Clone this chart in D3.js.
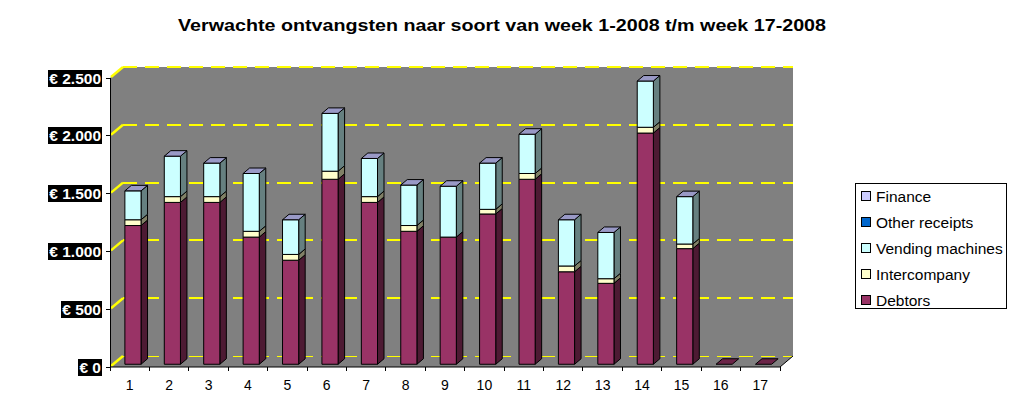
<!DOCTYPE html>
<html>
<head>
<meta charset="utf-8">
<script src="https://cdn.jsdelivr.net/npm/d3@7"></script>
<style>
  body { margin: 0; background: #fff; }
  svg { display: block; font-family: Arial, 'Liberation Sans', sans-serif; }
</style>
</head>
<body>
<svg id="chart"></svg>
<script>
const weeks = ['1', '2', '3', '4', '5', '6', '7', '8', '9', '10', '11', '12', '13', '14', '15', '16', '17']
const debtors = [1200, 1400, 1400, 1100, 900, 1600, 1400, 1150, 1100, 1300, 1600, 800, 700, 2000, 1000, 0, 0]
const intercompany = [50, 50, 50, 50, 50, 70, 50, 50, 0, 40, 50, 50, 40, 50, 40, null, null]
const vending = [250, 350, 290, 500, 300, 500, 330, 350, 440, 400, 340, 400, 400, 400, 410, null, null]
const otherReceipts = [0, 0, 0, 0, 0, 0, 0, 0, 0, 0, 0, 0, 0, 0, 0, null, null]
const finance = [0, 0, 0, 0, 0, 0, 0, 0, 0, 0, 0, 0, 0, 0, 0, null, null]
const yTicks = [0, 500, 1000, 1500, 2000, 2500]

// series from bottom to top
const series = [
  { name: 'Debtors', values: debtors, front: '#993366', side: '#4d1a33', top: '#6b2447' },
  { name: 'Intercompany', values: intercompany, front: '#ffffcc', side: '#808066', top: '#bfbf99' },
  { name: 'Vending machines', values: vending, front: '#ccffff', side: '#668080', top: '#99bfbf' },
  { name: 'Other receipts', values: otherReceipts, front: '#0066cc', side: '#003366', top: '#004d99' },
  { name: 'Finance', values: finance, front: '#ccccff', side: '#666680', top: '#9999c6' }
]

const width = 1015
const height = 395
const dx = 13   // depth offset of the back wall
const dy = -11

const svg = d3.select('#chart')
  .attr('width', width)
  .attr('height', height)

const x = d3.scaleBand()
  .domain(weeks)
  .range([110, 780])

const y = d3.scaleLinear()
  .domain([0, 2500])
  .range([367, 78])

const proj = (px, v, z) => [px + z * dx, y(v) + z * dy]
const poly = pts => pts.map(p => p.join(',')).join(' ')

// title
svg.append('text')
  .attr('x', 502)
  .attr('y', 31)
  .attr('text-anchor', 'middle')
  .attr('font-size', 17)
  .attr('font-weight', 'bold')
  .attr('textLength', 648)
  .attr('lengthAdjust', 'spacingAndGlyphs')
  .text('Verwachte ontvangsten naar soort van week 1-2008 t/m week 17-2008')

const x0 = x.range()[0]
const x1 = x.range()[1]
const yMax = d3.max(y.domain())

// walls
svg.append('polygon') // side wall
  .attr('points', poly([proj(x0, 0, 0), proj(x0, yMax, 0), proj(x0, yMax, 1), proj(x0, 0, 1)]))
  .attr('fill', '#808080')
svg.append('polygon') // back wall
  .attr('points', poly([proj(x0, 0, 1), proj(x0, yMax, 1), proj(x1, yMax, 1), proj(x1, 0, 1)]))
  .attr('fill', '#808080')
svg.append('polygon') // floor
  .attr('points', poly([proj(x0, 0, 0), proj(x0, 0, 1), proj(x1, 0, 1), proj(x1, 0, 0)]))
  .attr('fill', '#808080')

// gridlines on back wall
svg.append('g')
  .selectAll('line')
  .data(yTicks)
  .enter().append('line')
  .attr('x1', x0 + dx)
  .attr('x2', x1 + dx)
  .attr('y1', d => y(d) + dy)
  .attr('y2', d => y(d) + dy)
  .attr('stroke', '#ffff00')
  .attr('stroke-width', d => d === 0 ? 1 : 2)
  .attr('stroke-dasharray', '14,8')
  .attr('shape-rendering', 'crispEdges')

// gridline stubs on side wall
svg.append('g')
  .selectAll('line')
  .data(yTicks)
  .enter().append('line')
  .attr('x1', x0 + 1)
  .attr('y1', d => y(d) - 1)
  .attr('x2', x0 + dx)
  .attr('y2', d => y(d) + dy)
  .attr('stroke', '#ffff00')
  .attr('stroke-width', 2.5)

// floor edge
svg.append('polyline')
  .attr('points', poly([proj(x0, 0, 0), proj(x1, 0, 0), proj(x1, 0, 1)]))
  .attr('fill', 'none')
  .attr('stroke', '#000')

// y axis
svg.append('line')
  .attr('x1', x0).attr('x2', x0)
  .attr('y1', y(yMax)).attr('y2', y(0) + 4)
  .attr('stroke', '#000')
  .attr('shape-rendering', 'crispEdges')

const yAxis = svg.append('g')
yAxis.selectAll('line')
  .data(yTicks)
  .enter().append('line')
  .attr('x1', x0 - 4).attr('x2', x0)
  .attr('y1', d => y(d)).attr('y2', d => y(d))
  .attr('stroke', '#000')
  .attr('shape-rendering', 'crispEdges')

const fmt = d => '€ ' + d3.format(',')(d).replace(/,/g, '.')
const yLabel = yAxis.selectAll('.ylabel')
  .data(yTicks)
  .enter().append('g')
  .attr('class', 'ylabel')
yLabel.append('rect').attr('fill', '#000')
yLabel.append('text')
  .attr('x', 101)
  .attr('y', d => y(d) + 5.5)
  .attr('text-anchor', 'end')
  .attr('font-size', 15.5)
  .attr('font-weight', 'bold')
  .attr('fill', '#fff')
  .text(fmt)
yLabel.each(function () {
  const b = d3.select(this).select('text').node().getBBox()
  d3.select(this).select('rect')
    .attr('x', Math.round(b.x) - 1)
    .attr('y', Math.round(b.y))
    .attr('width', Math.round(b.width) + 2)
    .attr('height', Math.round(b.height))
})

// x axis
const xAxis = svg.append('g')
xAxis.selectAll('line')
  .data(d3.range(weeks.length + 1))
  .enter().append('line')
  .attr('x1', i => x0 + i * x.step())
  .attr('x2', i => x0 + i * x.step())
  .attr('y1', y(0)).attr('y2', y(0) + 4)
  .attr('stroke', '#000')
  .attr('shape-rendering', 'crispEdges')
xAxis.selectAll('text')
  .data(weeks)
  .enter().append('text')
  .attr('x', d => x(d) + x.bandwidth() / 2)
  .attr('y', 390)
  .attr('text-anchor', 'middle')
  .attr('font-size', 14)
  .text(d => d)

// bars
const barW = x.bandwidth() * 0.41
const zf = 0.25
const zb = 0.75
const bars = svg.append('g')
weeks.forEach((w, i) => {
  const left = x(w) + (x.bandwidth() - barW) / 2
  const right = left + barW
  let base = 0
  let last = null
  series.forEach(s => {
    const v = s.values[i]
    if (v === null) return
    last = s
    if (v === 0) return
    const t = base + v
    const g = bars.append('g')
      .attr('stroke', '#000')
      .attr('stroke-width', 1)
      .attr('stroke-linejoin', 'round')
    g.append('polygon')
      .attr('points', poly([proj(right, base, zf), proj(right, base, zb), proj(right, t, zb), proj(right, t, zf)]))
      .attr('fill', s.side)
    const f0 = proj(left, t, zf)
    const f1 = proj(right, base, zf)
    g.append('rect')
      .attr('x', f0[0])
      .attr('y', f0[1])
      .attr('width', f1[0] - f0[0])
      .attr('height', f1[1] - f0[1])
      .attr('fill', s.front)
    base = t
  })
  // top face
  bars.append('polygon')
    .attr('points', poly([proj(left, base, zf), proj(left, base, zb), proj(right, base, zb), proj(right, base, zf)]))
    .attr('fill', last ? last.top : '#808080')
    .attr('stroke', '#000')
    .attr('stroke-linejoin', 'round')
})

// legend
const legend = svg.append('g')
  .attr('transform', 'translate(855,183)')
legend.append('rect')
  .attr('x', 0.5).attr('y', 0.5)
  .attr('width', 151).attr('height', 125)
  .attr('fill', '#fff')
  .attr('stroke', '#000')
const item = legend.selectAll('.item')
  .data(series.slice().reverse())
  .enter().append('g')
  .attr('class', 'item')
  .attr('transform', (d, i) => `translate(0,${13 + i * 26})`)
item.append('rect')
  .attr('x', 6.5).attr('y', -4.5)
  .attr('width', 9).attr('height', 9)
  .attr('fill', d => d.front)
  .attr('stroke', '#000')
item.append('text')
  .attr('x', 21)
  .attr('y', 5.5)
  .attr('font-size', 15.5)
  .text(d => d.name)
</script>
</body>
</html>
